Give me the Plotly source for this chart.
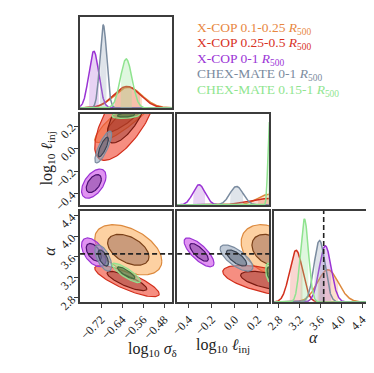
import numpy as np
import plotly.graph_objects as go

# ---- data ----
labels = ["X-COP 0.1-0.25", "X-COP 0.25-0.5", "X-COP 0-1",
          "CHEX-MATE 0-1", "CHEX-MATE 0.15-1"]

# posterior means / widths per parameter
mu_sigma = [-0.617, -0.622, -0.748, -0.712, -0.625]
sd_sigma = [0.052, 0.050, 0.019, 0.013, 0.022]
mu_linj = [0.30, 0.30, -0.31, 0.015, 0.30]
sd_linj = [0.10, 0.165, 0.053, 0.058, 0.013]
mu_alpha = [3.74, 3.13, 3.69, 3.58, 3.29]
sd_alpha = [0.20, 0.125, 0.115, 0.105, 0.078]

# pairwise correlations
rho_sl = [0.9, 0.7, 0.5, 0.8, 0.3]
rho_sa = [-0.45, -0.82, -0.5, -0.6, -0.85]
rho_la = [-0.3, -0.6, -0.75, -0.7, -0.3]

alpha_ref = 3.66
levels = [0.95, 0.68]

ticks_sigma = [-0.72, -0.64, -0.56, -0.48]
ticks_linj = [-0.4, -0.2, 0.0, 0.2]
ticks_alpha = [2.8, 3.2, 3.6, 4.0, 4.4]

# ---- styles ----
line_col = ["#dd8a3e", "#d22f1c", "#9a33d4", "#7b8ca0", "#8fe38f"]
text_col = ["#e8873f", "#d8321f", "#9b35d6", "#7b8b9e", "#8fe58f"]
fill_out = ["rgba(252,178,100,0.6)", "rgba(240,72,52,0.62)", "rgba(205,80,232,0.62)",
            "rgba(150,166,188,0.6)", "rgba(150,222,150,0.55)"]
fill_in = ["rgba(130,80,70,0.42)", "rgba(120,30,20,0.35)", "rgba(80,30,110,0.35)",
           "rgba(45,55,75,0.38)", "rgba(45,95,45,0.42)"]
line_in = ["#7a4018", "#7a1a10", "#4a1070", "#3a4555", "#3f6f3f"]
shade_1d = ["rgba(250,170,110,0.35)", "rgba(230,90,70,0.25)", "rgba(180,110,220,0.3)",
            "rgba(150,165,185,0.3)", "rgba(150,230,150,0.3)"]

rng_sigma = [-0.80, -0.45]
rng_linj = [-0.50, 0.30]
rng_alpha = [2.71, 4.48]

FONT = "Liberation Serif"
W, H = 374, 373


def fmt(v):
    s = "%.2f" % v if abs(v * 10 - round(v * 10)) > 1e-6 else "%.1f" % v
    return s.replace("-", "\u2212")


def ellipse(mx, my, sx, sy, rho, p, n=140):
    r = np.sqrt(-2 * np.log(1 - p))
    t = np.linspace(0, 2 * np.pi, n)
    cov = np.array([[sx * sx, rho * sx * sy], [rho * sx * sy, sy * sy]])
    L = np.linalg.cholesky(cov)
    pts = L @ np.vstack([np.cos(t), np.sin(t)]) * r
    return mx + pts[0], my + pts[1]


def gauss(x, m, s):
    return np.exp(-0.5 * ((x - m) / s) ** 2) / (s * np.sqrt(2 * np.pi))


fig = go.Figure()


def add_2d(ax, mx, sx, my, sy, rho):
    xa, ya = ax
    for i in range(len(labels)):
        for k, p in enumerate(levels):
            ex, ey = ellipse(mx[i], my[i], sx[i], sy[i], rho[i], p)
            fig.add_trace(go.Scatter(
                x=ex, y=ey, mode="lines", fill="toself",
                fillcolor=fill_out[i] if k == 0 else fill_in[i],
                line=dict(color=line_col[i] if k == 0 else line_in[i], width=1.2),
                xaxis=xa, yaxis=ya, hoverinfo="skip", showlegend=False))


def add_1d(ax, mu, sd, rng):
    xa, ya = ax
    x = np.linspace(rng[0], rng[1], 500)
    peak = 0
    for i in range(len(labels)):
        y = gauss(x, mu[i], sd[i])
        peak = max(peak, y.max())
        m = (x >= mu[i] - sd[i]) & (x <= mu[i] + sd[i])
        xs = np.concatenate([[x[m][0]], x[m], [x[m][-1]]])
        ys = np.concatenate([[0], y[m], [0]])
        fig.add_trace(go.Scatter(
            x=xs, y=ys, mode="lines", fill="toself", fillcolor=shade_1d[i],
            line=dict(width=0), xaxis=xa, yaxis=ya, hoverinfo="skip", showlegend=False))
        fig.add_trace(go.Scatter(
            x=x, y=y, mode="lines", line=dict(color=line_col[i], width=1.5),
            xaxis=xa, yaxis=ya, hoverinfo="skip", showlegend=False))
    return peak * 1.1


ymax_s = add_1d(("x", "y"), mu_sigma, sd_sigma, rng_sigma)
add_2d(("x2", "y2"), mu_sigma, sd_sigma, mu_linj, sd_linj, rho_sl)
ymax_l = add_1d(("x3", "y3"), mu_linj, sd_linj, rng_linj)
add_2d(("x4", "y4"), mu_sigma, sd_sigma, mu_alpha, sd_alpha, rho_sa)
add_2d(("x5", "y5"), mu_linj, sd_linj, mu_alpha, sd_alpha, rho_la)
ymax_a = add_1d(("x6", "y6"), mu_alpha, sd_alpha, rng_alpha)

cols = [[65 / W, 160 / W], [165 / W, 260 / W], [265 / W, 360 / W]]
rows = [[1 - 103 / H, 1 - 9 / H], [1 - 203 / H, 1 - 109 / H], [1 - 303 / H, 1 - 209 / H]]

frame = dict(showline=True, mirror=True, linecolor="#3c3c3c", linewidth=1.5,
             showgrid=False, zeroline=False, ticks="", showticklabels=False)


def axis(dom, rng, anchor, tickvals=None, angle=-45):
    d = dict(frame, domain=dom, range=rng, anchor=anchor)
    if tickvals is not None:
        d.update(ticks="outside", ticklen=4, tickwidth=1, tickcolor="#3c3c3c",
                 showticklabels=True, tickvals=tickvals,
                 ticktext=[fmt(v) for v in tickvals], tickangle=angle,
                 tickfont=dict(family=FONT, size=12, color="#222"))
    return d


fig.update_layout(
    width=W, height=H, margin=dict(l=0, r=0, t=0, b=0),
    plot_bgcolor="white", paper_bgcolor="white", showlegend=False,
    xaxis=axis(cols[0], rng_sigma, "y"),
    yaxis=axis(rows[0], [0, ymax_s], "x"),
    xaxis2=axis(cols[0], rng_sigma, "y2"),
    yaxis2=axis(rows[1], rng_linj[:1] + [0.31], "x2", ticks_linj),
    xaxis3=axis(cols[1], rng_linj, "y3"),
    yaxis3=axis(rows[1], [0, ymax_l], "x3"),
    xaxis4=axis(cols[0], rng_sigma, "y4", ticks_sigma),
    yaxis4=axis(rows[2], [2.72, 4.50], "x4", ticks_alpha),
    xaxis5=axis(cols[1], rng_linj, "y5", ticks_linj),
    yaxis5=axis(rows[2], [2.72, 4.50], "x5"),
    xaxis6=axis(cols[2], rng_alpha, "y6", ticks_alpha),
    yaxis6=axis(rows[2], [0, ymax_a], "x6"),
)

dash = dict(color="#222", width=1.6, dash="5px,3px")
for xa, ya in (("x4", "y4"), ("x5", "y5")):
    fig.add_shape(type="line", xref=xa + " domain", yref=ya, x0=0, x1=1,
                  y0=alpha_ref, y1=alpha_ref, line=dash)
fig.add_shape(type="line", xref="x6", yref="y6 domain", x0=alpha_ref, x1=alpha_ref,
              y0=0, y1=1, line=dash)

# legend as coloured text
for i, lab in enumerate(labels):
    fig.add_annotation(text=lab + " <i>R</i><sub>500</sub>", x=183 / W, y=1 - (21 + 16 * i) / H,
                       xref="paper", yref="paper", xanchor="left", yanchor="middle",
                       showarrow=False, font=dict(family=FONT, size=13.5, color=text_col[i]))

# axis labels
lab_font = dict(family=FONT, size=16, color="#222")
fig.add_annotation(text="log<sub>10</sub> <i>\u03c3</i><sub>\u03b4</sub>", x=112 / W, y=1 - 364 / H,
                   xref="paper", yref="paper", showarrow=False, font=lab_font)
fig.add_annotation(text="log<sub>10</sub> <i>\u2113</i><sub>inj</sub>", x=212 / W, y=1 - 360 / H,
                   xref="paper", yref="paper", showarrow=False, font=lab_font)
fig.add_annotation(text="<i>\u03b1</i>", x=312 / W, y=1 - 350 / H,
                   xref="paper", yref="paper", showarrow=False, font=lab_font)
fig.add_annotation(text="log<sub>10</sub> <i>\u2113</i><sub>inj</sub>", x=19 / W, y=1 - 155 / H,
                   xref="paper", yref="paper", showarrow=False, textangle=-90, font=lab_font)
fig.add_annotation(text="<i>\u03b1</i>", x=23 / W, y=1 - 257 / H,
                   xref="paper", yref="paper", showarrow=False, textangle=-90, font=lab_font)

fig.write_html("out.html")
